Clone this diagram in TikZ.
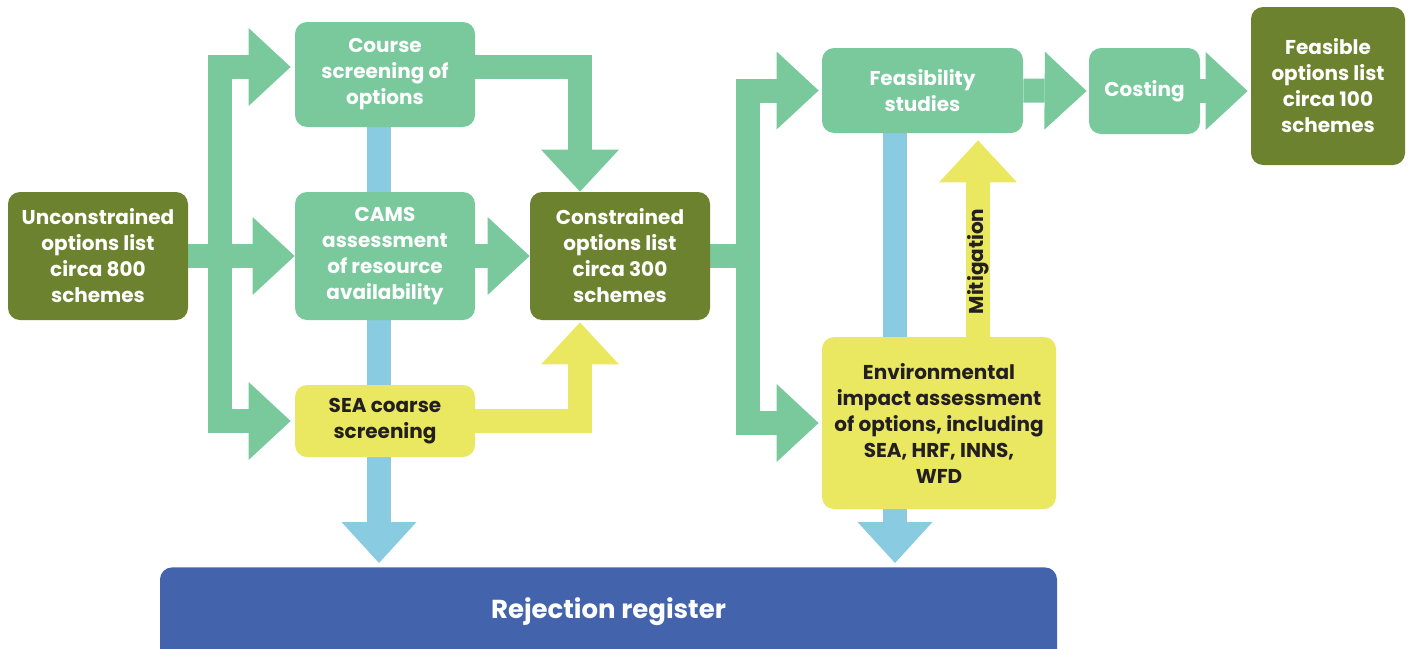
\documentclass[tikz,border=0pt]{standalone}
\usepackage{fontspec}
\setmainfont{Poppins}
\usetikzlibrary{arrows.meta,backgrounds}
\definecolor{boxgreen}{HTML}{79C99D}
\definecolor{boxolive}{HTML}{6D822E}
\definecolor{boxyellow}{HTML}{E9E860}
\definecolor{barblue}{HTML}{89CBE0}
\definecolor{rejblue}{HTML}{4364AD}
\definecolor{inkdark}{HTML}{231F20}

\begin{document}
\begin{tikzpicture}[x=0.5pt,y=-0.5pt]
				\tikzstyle{box}=[rounded corners=6pt, align=center, inner sep=0pt, font=\fontsize{10}{13}\selectfont\bfseries, minimum width=90pt]
				\tikzstyle{greenbox}=[box, fill=boxgreen, text=white]
				\tikzstyle{olivebox}=[box, fill=boxolive, text=white]
				\tikzstyle{yellowbox}=[box, fill=boxyellow, text=inkdark]
				\tikzstyle{greenshaft}=[draw=boxgreen, line width=12pt, line join=miter]
				\tikzstyle{greenarrow}=[greenshaft, -{Triangle[length=21pt,width=39pt,line width=0pt]}]
				\tikzstyle{yellowarrow}=[draw=boxyellow, line width=12pt, line join=miter, -{Triangle[length=21pt,width=39pt,line width=0pt]}]
				\tikzstyle{bluearrow}=[draw=barblue, line width=12pt, -{Triangle[length=20.5pt,width=37.5pt,line width=0pt]}]

				\useasboundingbox (0,0) rectangle (1411,648);

				% Boxes
				\node [olivebox, minimum height=64pt] at (98,256) (unc) {Unconstrained\\options list\\circa 800\\schemes};
				\node [greenbox, minimum height=52.5pt] at (385,74.5) (course) {Course\\screening of\\options};
				\node [greenbox, minimum height=64pt] at (385,256) (cams) {CAMS\\assessment\\of resource\\availability};
				\node [yellowbox, minimum height=36pt] at (385,421) (sea) {SEA coarse\\screening};
				\node [olivebox, minimum height=64pt] at (620,256) (cons) {Constrained\\options list\\circa 300\\schemes};
				\node [greenbox, minimum width=100.5pt, minimum height=42.5pt] at (922.5,90.5) (feas) {Feasibility\\studies};
				\node [yellowbox, minimum width=117pt, minimum height=86pt] at (939,423) (env) {Environmental\\impact assessment\\of options, including\\SEA, HRF, INNS,\\WFD};
				\node [greenbox, minimum width=55.5pt, minimum height=43pt] at (1144.5,91) (cost) {Costing};
				\node [olivebox, minimum width=77pt, minimum height=79pt] at (1328,86) (fopt) {Feasible\\options list\\circa 100\\schemes};
				\node [box, fill=rejblue, text=white, anchor=north, minimum width=448.5pt, inner ysep=0pt, text height=25.5pt, text depth=40pt, font=\fontsize{13}{15}\selectfont\bfseries] at (608.5,567) (rej) {Rejection register};

				% Split points
				\coordinate (splitL) at (220,256);
				\coordinate (splitR) at (748,256);
				\coordinate (dropx) at (580,0);
				\coordinate (barL) at (379,0);
				\coordinate (barR) at (895,0);
				\coordinate (mitx) at (978,0);

				% Path Arrows
				\begin{pgfonlayer}{background}
				\path [bluearrow, shorten >=2pt] (course.south -| barL) -- (rej.north -| barL);
				\path [bluearrow, shorten >=2pt] (feas.south -| barR) -- (rej.north -| barR);

				\path [greenarrow] (unc.east) -- (cams.west);
				\path [greenarrow, shorten >=2pt] (splitL) |- ([yshift=3.75pt]course.west);
				\path [greenarrow, shorten >=2pt] (splitL) |- (sea.west);
				\path [greenarrow] (cams.east) -- (cons.west);
				\path [greenarrow] ([yshift=3.75pt]course.east) -| (cons.north -| dropx);
				\path [yellowarrow, shorten >=1pt] (sea.east) -| (cons.south -| dropx);

				\path [greenshaft] (cons.east) -- ([xshift=6pt]splitR);
				\path [greenarrow, shorten >=1.5pt] (splitR) |- (feas.west);
				\path [greenarrow, shorten >=1.5pt] (splitR) |- (env.west);
				\path [greenarrow, shorten >=1pt] (feas.east) -- (cost.west);
				\path [greenarrow, shorten >=1.5pt] (cost.east) -- (cost.east -| fopt.west);
				\path [yellowarrow, shorten >=3.5pt] (env.north -| mitx) -- node [pos=0.37, sloped, text=inkdark, font=\fontsize{10}{12}\selectfont\bfseries] {Mitigation} (feas.south -| mitx);
				\end{pgfonlayer}

\end{tikzpicture}
\end{document}
